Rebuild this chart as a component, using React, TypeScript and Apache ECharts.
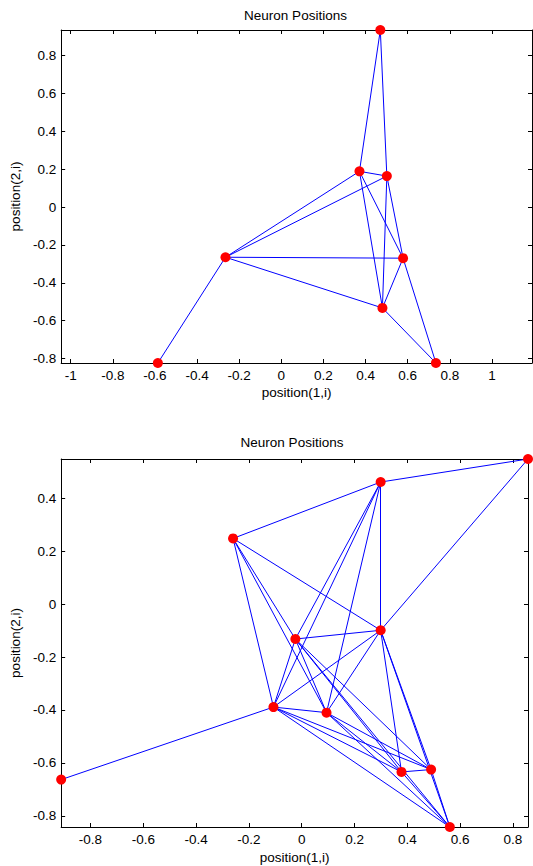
import React, { useEffect, useRef } from "react";
import * as echarts from "echarts";

// ---- Plot 1 data (8 neurons) ----
const topX = [0.47, 0.371, 0.501, -0.265, 0.578, 0.48, -0.586, 0.734];
const topY = [0.936, 0.189, 0.164, -0.265, -0.27, -0.533, -0.824, -0.824];
const topEdges = [
  [0, 1], [0, 2], [1, 2], [1, 3], [2, 3], [3, 4], [3, 5], [3, 6],
  [1, 5], [1, 4], [2, 4], [2, 5], [4, 5], [4, 7], [5, 7],
];
const topXTicks = [-1, -0.8, -0.6, -0.4, -0.2, 0, 0.2, 0.4, 0.6, 0.8, 1];
const topYTicks = [-0.8, -0.6, -0.4, -0.2, 0, 0.2, 0.4, 0.6, 0.8];
const topXRange = [-1.045, 1.19];

// ---- Plot 2 data (11 neurons) ----
const botX = [0.857, 0.299, -0.26, 0.299, -0.024, -0.107, 0.094, 0.378, 0.49, 0.561, -0.911];
const botY = [0.548, 0.461, 0.248, -0.099, -0.132, -0.389, -0.41, -0.634, -0.625, -0.842, -0.663];
const botEdges = [
  [0, 1], [0, 3],
  [1, 2], [1, 3], [1, 4], [1, 5], [1, 6],
  [2, 3], [2, 4], [2, 5], [2, 6],
  [3, 4], [3, 5], [3, 6], [3, 7], [3, 8], [3, 9],
  [4, 5], [4, 6], [4, 7], [4, 8], [4, 9],
  [5, 6], [5, 7], [5, 8], [5, 9], [5, 10],
  [6, 7], [6, 8], [6, 9],
  [7, 8], [7, 9],
  [8, 9],
];
const botXTicks = [-0.8, -0.6, -0.4, -0.2, 0, 0.2, 0.4, 0.6, 0.8];
const botYTicks = [-0.8, -0.6, -0.4, -0.2, 0, 0.2, 0.4];

const titleText = "Neuron Positions";
const xName = "position(1,i)";
const yName = "position(2,i)";

const FONT = "Liberation Sans, Arial, sans-serif";
const FS = 13.5;

function axis(
  kind: "x" | "y",
  grid: number,
  pos: string,
  min: number,
  max: number,
  ticks: number[],
  labels: boolean,
  name?: string,
  nameGap?: number
) {
  return {
    type: "value",
    gridIndex: grid,
    position: pos,
    min,
    max,
    name: labels ? name : undefined,
    nameLocation: "middle",
    nameGap,
    nameTextStyle: { color: "#000", fontSize: FS, fontFamily: FONT },
    axisLine: { show: true, onZero: false, lineStyle: { color: "#000", width: 1 } },
    axisTick: {
      show: true,
      inside: true,
      length: 4,
      customValues: ticks,
      lineStyle: { color: "#000", width: 1 },
    },
    axisLabel: {
      show: labels,
      customValues: ticks,
      color: "#000",
      fontSize: FS,
      fontFamily: FONT,
      margin: kind === "x" ? 5 : 5,
      formatter: (v: number) => String(Math.round(v * 10) / 10),
    },
    splitLine: { show: false },
  };
}

function edgeData(xs: number[], ys: number[], edges: number[][]) {
  return edges.map(([a, b]) => ({ coords: [[xs[a], ys[a]], [xs[b], ys[b]]] }));
}

export default function App() {
  const ref = useRef<HTMLDivElement>(null);
  useEffect(() => {
    if (!ref.current) return;
    const chart = echarts.init(ref.current, undefined, { renderer: "svg" });
    const topYRange = [Math.min(...topY), Math.max(...topY)];
    const botXRange = [Math.min(...botX), Math.max(...botX)];
    const botYRange = [Math.min(...botY), Math.max(...botY)];
    const g0 = { left: 59, top: 30, width: 473, height: 333 };
    const g1 = { left: 56, top: 459, width: 472, height: 368 };
    chart.setOption({
      animation: false,
      backgroundColor: "#fff",
      grid: [
        { ...g0, containLabel: false },
        { ...g1, containLabel: false },
      ],
      xAxis: [
        axis("x", 0, "bottom", topXRange[0], topXRange[1], topXTicks, true, xName, 22),
        axis("x", 0, "top", topXRange[0], topXRange[1], topXTicks, false),
        axis("x", 1, "bottom", botXRange[0], botXRange[1], botXTicks, true, xName, 23),
        axis("x", 1, "top", botXRange[0], botXRange[1], botXTicks, false),
      ],
      yAxis: [
        axis("y", 0, "left", topYRange[0], topYRange[1], topYTicks, true, yName, 39),
        axis("y", 0, "right", topYRange[0], topYRange[1], topYTicks, false),
        axis("y", 1, "left", botYRange[0], botYRange[1], botYTicks, true, yName, 37),
        axis("y", 1, "right", botYRange[0], botYRange[1], botYTicks, false),
      ],
      graphic: [
        {
          type: "text",
          x: g0.left + g0.width / 2,
          y: 15,
          style: {
            text: titleText,
            align: "center",
            verticalAlign: "middle",
            fontSize: FS,
            fontFamily: FONT,
            fill: "#000",
          },
        },
        {
          type: "text",
          x: g1.left + g1.width / 2,
          y: 442,
          style: {
            text: titleText,
            align: "center",
            verticalAlign: "middle",
            fontSize: FS,
            fontFamily: FONT,
            fill: "#000",
          },
        },
      ],
      series: [
        {
          type: "lines",
          coordinateSystem: "cartesian2d",
          xAxisIndex: 0,
          yAxisIndex: 0,
          silent: true,
          z: 2,
          lineStyle: { color: "#0000ff", width: 1, opacity: 1, curveness: 0 },
          data: edgeData(topX, topY, topEdges),
        },
        {
          type: "scatter",
          xAxisIndex: 0,
          yAxisIndex: 0,
          symbol: "circle",
          symbolSize: 10,
          clip: false,
          z: 3,
          itemStyle: { color: "#ff0000", opacity: 1 },
          data: topX.map((x, i) => [x, topY[i]]),
        },
        {
          type: "lines",
          coordinateSystem: "cartesian2d",
          xAxisIndex: 2,
          yAxisIndex: 2,
          silent: true,
          z: 2,
          lineStyle: { color: "#0000ff", width: 1, opacity: 1, curveness: 0 },
          data: edgeData(botX, botY, botEdges),
        },
        {
          type: "scatter",
          xAxisIndex: 2,
          yAxisIndex: 2,
          symbol: "circle",
          symbolSize: 10,
          clip: false,
          z: 3,
          itemStyle: { color: "#ff0000", opacity: 1 },
          data: botX.map((x, i) => [x, botY[i]]),
        },
      ],
    });
    return () => chart.dispose();
  }, []);
  return (
    <div
      ref={ref}
      style={{ position: "absolute", left: 0, top: 0, width: 533, height: 866 }}
    />
  );
}
